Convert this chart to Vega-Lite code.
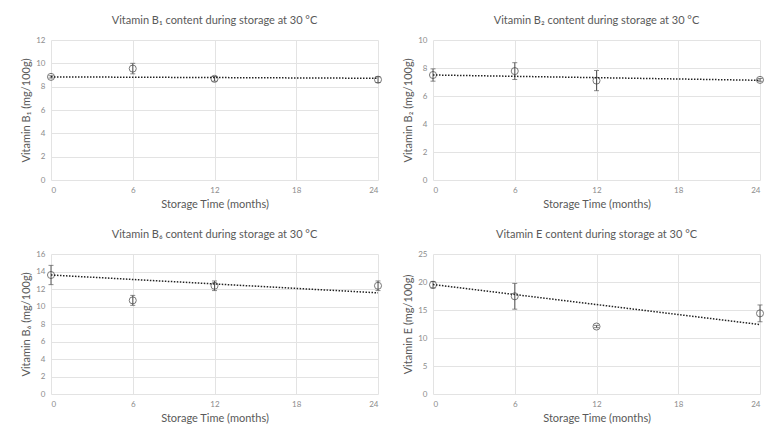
{
  "$schema": "https://vega.github.io/schema/vega-lite/v6.json",
  "background": "white",
  "padding": {"left": 20, "top": 15, "right": 12, "bottom": 5},
  "datasets": {
    "pts": [
      {"panel": "B1", "t": 0, "v": 8.84, "lo": 8.74, "hi": 8.94},
      {"panel": "B1", "t": 6, "v": 9.55, "lo": 9.1, "hi": 10.0},
      {"panel": "B1", "t": 12, "v": 8.67, "lo": 8.47, "hi": 8.87},
      {"panel": "B1", "t": 24, "v": 8.6, "lo": 8.35, "hi": 8.85},
      {"panel": "B2", "t": 0, "v": 7.5, "lo": 7.06, "hi": 7.94},
      {"panel": "B2", "t": 6, "v": 7.78, "lo": 7.18, "hi": 8.38},
      {"panel": "B2", "t": 12, "v": 7.1, "lo": 6.38, "hi": 7.82},
      {"panel": "B2", "t": 24, "v": 7.15, "lo": 7.05, "hi": 7.25},
      {"panel": "B6", "t": 0, "v": 13.6, "lo": 12.5, "hi": 14.7},
      {"panel": "B6", "t": 6, "v": 10.7, "lo": 10.13, "hi": 11.27},
      {"panel": "B6", "t": 12, "v": 12.37, "lo": 11.82, "hi": 12.92},
      {"panel": "B6", "t": 24, "v": 12.37, "lo": 11.82, "hi": 12.92},
      {"panel": "E", "t": 0, "v": 19.5, "lo": 18.9, "hi": 20.1},
      {"panel": "E", "t": 6, "v": 17.45, "lo": 15.15, "hi": 19.75},
      {"panel": "E", "t": 12, "v": 12.05, "lo": 11.85, "hi": 12.25},
      {"panel": "E", "t": 24, "v": 14.4, "lo": 12.9, "hi": 15.9}
    ],
    "trend": [
      {"panel": "B1", "t": 0, "v": 8.84},
      {"panel": "B1", "t": 24, "v": 8.72},
      {"panel": "B2", "t": 0, "v": 7.5},
      {"panel": "B2", "t": 24, "v": 7.12},
      {"panel": "B6", "t": 0, "v": 13.6},
      {"panel": "B6", "t": 24, "v": 11.56},
      {"panel": "E", "t": 0, "v": 19.55},
      {"panel": "E", "t": 24, "v": 12.4}
    ]
  },
  "columns": 2,
  "spacing": {"row": 20, "column": 18},
  "concat": [
    {
      "title": "Vitamin B₁ content during storage at 30 °C",
      "width": 327, "height": 140,
      "encoding": {
        "x": {"field": "t", "type": "quantitative", "scale": {"domain": [0, 24]}, "axis": {"values": [0, 6, 12, 18, 24], "title": "Storage Time (months)"}},
        "y": {"field": "v", "type": "quantitative", "scale": {"domain": [0, 12]}, "axis": {"values": [0, 2, 4, 6, 8, 10, 12], "title": "Vitamin B₁ (mg/100g)"}}
      },
      "layer": [
        {"data": {"name": "pts"}, "transform": [{"filter": "datum.panel == 'B1'"}], "mark": {"type": "rule", "color": "#595959", "strokeWidth": 1}, "encoding": {"y": {"field": "lo", "type": "quantitative"}, "y2": {"field": "hi"}}},
        {"data": {"name": "pts"}, "transform": [{"filter": "datum.panel == 'B1'"}], "mark": {"type": "tick", "orient": "horizontal", "size": 5, "thickness": 1, "color": "#595959"}, "encoding": {"y": {"field": "lo", "type": "quantitative"}}},
        {"data": {"name": "pts"}, "transform": [{"filter": "datum.panel == 'B1'"}], "mark": {"type": "tick", "orient": "horizontal", "size": 5, "thickness": 1, "color": "#595959"}, "encoding": {"y": {"field": "hi", "type": "quantitative"}}},
        {"data": {"name": "pts"}, "transform": [{"filter": "datum.panel == 'B1'"}], "mark": {"type": "point", "filled": false, "stroke": "#404040", "size": 50, "strokeWidth": 1}},
        {"data": {"name": "trend"}, "transform": [{"filter": "datum.panel == 'B1'"}], "mark": {"type": "line", "color": "#222222", "strokeWidth": 1.5, "strokeDash": [1.5, 1.5]}}
      ]
    },
    {
      "title": "Vitamin B₂ content during storage at 30 °C",
      "width": 327, "height": 140,
      "encoding": {
        "x": {"field": "t", "type": "quantitative", "scale": {"domain": [0, 24]}, "axis": {"values": [0, 6, 12, 18, 24], "title": "Storage Time (months)"}},
        "y": {"field": "v", "type": "quantitative", "scale": {"domain": [0, 10]}, "axis": {"values": [0, 2, 4, 6, 8, 10], "title": "Vitamin B₂ (mg/100g)"}}
      },
      "layer": [
        {"data": {"name": "pts"}, "transform": [{"filter": "datum.panel == 'B2'"}], "mark": {"type": "rule", "color": "#595959", "strokeWidth": 1}, "encoding": {"y": {"field": "lo", "type": "quantitative"}, "y2": {"field": "hi"}}},
        {"data": {"name": "pts"}, "transform": [{"filter": "datum.panel == 'B2'"}], "mark": {"type": "tick", "orient": "horizontal", "size": 5, "thickness": 1, "color": "#595959"}, "encoding": {"y": {"field": "lo", "type": "quantitative"}}},
        {"data": {"name": "pts"}, "transform": [{"filter": "datum.panel == 'B2'"}], "mark": {"type": "tick", "orient": "horizontal", "size": 5, "thickness": 1, "color": "#595959"}, "encoding": {"y": {"field": "hi", "type": "quantitative"}}},
        {"data": {"name": "pts"}, "transform": [{"filter": "datum.panel == 'B2'"}], "mark": {"type": "point", "filled": false, "stroke": "#404040", "size": 50, "strokeWidth": 1}},
        {"data": {"name": "trend"}, "transform": [{"filter": "datum.panel == 'B2'"}], "mark": {"type": "line", "color": "#222222", "strokeWidth": 1.5, "strokeDash": [1.5, 1.5]}}
      ]
    },
    {
      "title": "Vitamin B₆ content during storage at 30 °C",
      "width": 327, "height": 140,
      "encoding": {
        "x": {"field": "t", "type": "quantitative", "scale": {"domain": [0, 24]}, "axis": {"values": [0, 6, 12, 18, 24], "title": "Storage Time (months)"}},
        "y": {"field": "v", "type": "quantitative", "scale": {"domain": [0, 16]}, "axis": {"values": [0, 2, 4, 6, 8, 10, 12, 14, 16], "title": "Vitamin B₆ (mg/100g)"}}
      },
      "layer": [
        {"data": {"name": "pts"}, "transform": [{"filter": "datum.panel == 'B6'"}], "mark": {"type": "rule", "color": "#595959", "strokeWidth": 1}, "encoding": {"y": {"field": "lo", "type": "quantitative"}, "y2": {"field": "hi"}}},
        {"data": {"name": "pts"}, "transform": [{"filter": "datum.panel == 'B6'"}], "mark": {"type": "tick", "orient": "horizontal", "size": 5, "thickness": 1, "color": "#595959"}, "encoding": {"y": {"field": "lo", "type": "quantitative"}}},
        {"data": {"name": "pts"}, "transform": [{"filter": "datum.panel == 'B6'"}], "mark": {"type": "tick", "orient": "horizontal", "size": 5, "thickness": 1, "color": "#595959"}, "encoding": {"y": {"field": "hi", "type": "quantitative"}}},
        {"data": {"name": "pts"}, "transform": [{"filter": "datum.panel == 'B6'"}], "mark": {"type": "point", "filled": false, "stroke": "#404040", "size": 50, "strokeWidth": 1}},
        {"data": {"name": "trend"}, "transform": [{"filter": "datum.panel == 'B6'"}], "mark": {"type": "line", "color": "#222222", "strokeWidth": 1.5, "strokeDash": [1.5, 1.5]}}
      ]
    },
    {
      "title": "Vitamin E content during storage at 30 °C",
      "width": 327, "height": 140,
      "encoding": {
        "x": {"field": "t", "type": "quantitative", "scale": {"domain": [0, 24]}, "axis": {"values": [0, 6, 12, 18, 24], "title": "Storage Time (months)"}},
        "y": {"field": "v", "type": "quantitative", "scale": {"domain": [0, 25]}, "axis": {"values": [0, 5, 10, 15, 20, 25], "title": "Vitamin E (mg/100g)"}}
      },
      "layer": [
        {"data": {"name": "pts"}, "transform": [{"filter": "datum.panel == 'E'"}], "mark": {"type": "rule", "color": "#595959", "strokeWidth": 1}, "encoding": {"y": {"field": "lo", "type": "quantitative"}, "y2": {"field": "hi"}}},
        {"data": {"name": "pts"}, "transform": [{"filter": "datum.panel == 'E'"}], "mark": {"type": "tick", "orient": "horizontal", "size": 5, "thickness": 1, "color": "#595959"}, "encoding": {"y": {"field": "lo", "type": "quantitative"}}},
        {"data": {"name": "pts"}, "transform": [{"filter": "datum.panel == 'E'"}], "mark": {"type": "tick", "orient": "horizontal", "size": 5, "thickness": 1, "color": "#595959"}, "encoding": {"y": {"field": "hi", "type": "quantitative"}}},
        {"data": {"name": "pts"}, "transform": [{"filter": "datum.panel == 'E'"}], "mark": {"type": "point", "filled": false, "stroke": "#404040", "size": 50, "strokeWidth": 1}},
        {"data": {"name": "trend"}, "transform": [{"filter": "datum.panel == 'E'"}], "mark": {"type": "line", "color": "#222222", "strokeWidth": 1.5, "strokeDash": [1.5, 1.5]}}
      ]
    }
  ],
  "config": {
    "font": "Lato",
    "view": {"stroke": null},
    "axis": {
      "domain": false,
      "ticks": false,
      "tickSize": 0,
      "grid": true,
      "gridColor": "#e3e3e3",
      "labelFont": "Lato",
      "labelFontSize": 8,
      "labelColor": "#8c8c8c",
      "labelPadding": 6,
      "titleFont": "Lato",
      "titleFontSize": 11,
      "titleFontWeight": "normal",
      "titleColor": "#595959",
      "titlePadding": 4
    },
    "title": {
      "font": "Lato",
      "fontSize": 11,
      "fontWeight": "normal",
      "color": "#595959",
      "offset": 10,
      "anchor": "middle"
    }
  }
}
